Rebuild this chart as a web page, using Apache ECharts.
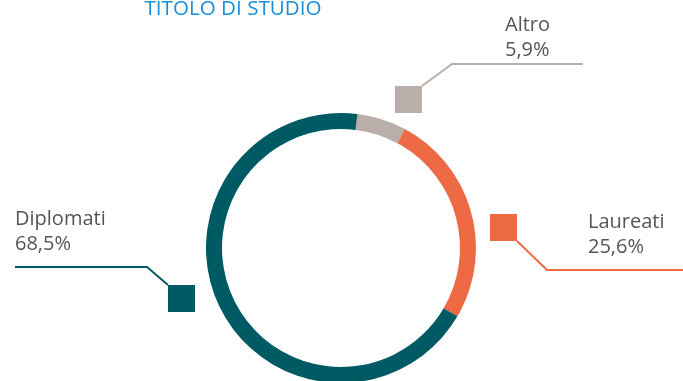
<!DOCTYPE html>
<html><head><meta charset="utf-8">
<script src="https://cdn.jsdelivr.net/npm/echarts@6/dist/echarts.min.js"></script>
<style>html,body{margin:0;padding:0;background:#fff}#c{width:683px;height:381px}</style>
</head><body><div id="c"></div>
<script>
var title = 'TITOLO DI STUDIO';
var categories = ['Altro', 'Laureati', 'Diplomati'];
var values = [5.9, 25.6, 68.5];
var colors = ['#B9AEAA', '#EE6A45', '#005A64'];

// label placement (decorative layout, not data)
var labelPos = [
  {x: 505, y: 13, line: [[422, 86], [452, 64], [583, 64]], sq: [395, 86]},
  {x: 588, y: 210, line: [[517, 241], [547, 270], [683, 270]], sq: [490, 214]},
  {x: 15, y: 207, line: [[15, 267], [147, 267], [168, 285]], sq: [168, 285]}
];

var chart = echarts.init(document.getElementById('c'), null, {renderer: 'canvas'});
var data = categories.map(function (n, i) {
  return {name: n, value: values[i], itemStyle: {color: colors[i]}, labelLine: {lineStyle: {color: colors[i]}}};
});
chart.setOption({
  animation: false,
  title: {
    text: title, left: 228, textAlign: 'center', top: -6,
    textStyle: {color: '#1A8FD8', fontFamily: 'Open Sans', fontWeight: 'normal', fontSize: 20.6}
  },
  graphic: labelPos.map(function (p, i) {
    return {type: 'rect', shape: {x: p.sq[0], y: p.sq[1], width: 27, height: 27}, style: {fill: colors[i]}};
  }),
  series: [{
    type: 'pie',
    center: [341, 248],
    radius: [119, 135],
    startAngle: 83,
    clockwise: true,
    data: data,
    label: {
      show: true,
      formatter: function (p) { return p.name + '\n' + String(p.value).replace('.', ',') + '%'; },
      color: '#555555', fontFamily: 'Open Sans', fontSize: 20, lineHeight: 25
    },
    labelLine: {show: true, smooth: false, lineStyle: {width: 2}},
    labelLayout: function (params) {
      var p = labelPos[params.dataIndex];
      return {x: p.x, y: p.y, align: 'left', verticalAlign: 'top', labelLinePoints: p.line};
    },
    emphasis: {disabled: true}
  }]
});
</script></body></html>
